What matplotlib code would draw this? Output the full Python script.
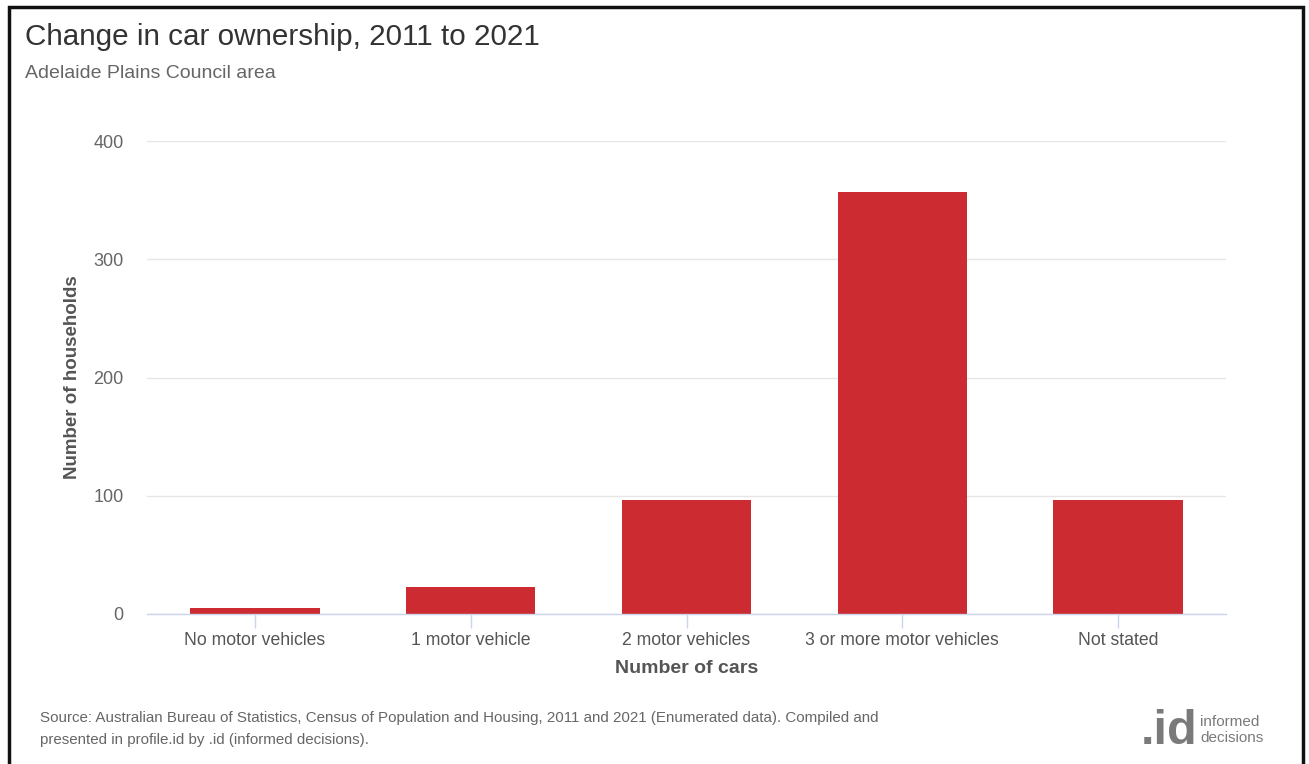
import numpy as np
import matplotlib
matplotlib.use("Agg")
import matplotlib.pyplot as plt
from matplotlib.patches import Rectangle

plt.rcParams['font.family'] = ['Liberation Sans', 'DejaVu Sans']

# Change in number of households by cars owned, 2011 to 2021
categories = ["No motor vehicles", "1 motor vehicle", "2 motor vehicles",
              "3 or more motor vehicles", "Not stated"]
households = [5, 23, 96, 357, 96]
y_ticks = [0, 100, 200, 300, 400]

BAR_RED = "#cc2b31"
GRID = "#e6e6e6"
AXIS_BLUE = "#ccd6eb"
TEXT_GREY = "#666666"

W, H = 1309, 764
fig = plt.figure(figsize=(W / 100, H / 100), dpi=100)

# axes box in pixel terms
left, right, bottom, top = 147, 1226, 614, 141
ax = fig.add_axes([left / W, 1 - bottom / H, (right - left) / W, (bottom - top) / H])

x = np.arange(len(categories))
ax.bar(x, households, width=0.6, color=BAR_RED, zorder=3)

ax.set_xlim(-0.5, len(categories) - 0.5)
ax.set_ylim(0, 400)
ax.set_yticks(y_ticks)
ax.set_yticklabels([str(v) for v in y_ticks], color=TEXT_GREY, fontsize=13)
ax.set_xticks(x)
ax.set_xticklabels(categories, color="#555555", fontsize=12.7)

for s in ["top", "right", "left"]:
    ax.spines[s].set_visible(False)
ax.spines["bottom"].set_color(AXIS_BLUE)
ax.spines["bottom"].set_linewidth(1)
ax.spines["bottom"].set_zorder(4)

ax.tick_params(axis="y", length=0, pad=17)
ax.tick_params(axis="x", length=10, color=AXIS_BLUE, width=1, pad=3)
ax.yaxis.grid(True, color=GRID, linewidth=1, zorder=0)
ax.set_axisbelow(True)

ax.set_xlabel("Number of cars", fontsize=14, fontweight="bold", color="#555555", labelpad=8)
ax.set_ylabel("Number of households", fontsize=13.5, fontweight="bold", color="#555555", labelpad=9)

# titles and source note
fig.text(25 / W, 1 - 37 / H, "Change in car ownership, 2011 to 2021",
         fontsize=21.3, color="#333333", va="center", ha="left")
fig.text(25 / W, 1 - 73 / H, "Adelaide Plains Council area",
         fontsize=14, color=TEXT_GREY, va="center", ha="left")
fig.text(40 / W, 1 - 718 / H,
         "Source: Australian Bureau of Statistics, Census of Population and Housing, 2011 and 2021 "
         "(Enumerated data). Compiled and",
         fontsize=10.9, color=TEXT_GREY, va="center", ha="left")
fig.text(40 / W, 1 - 740 / H, "presented in profile.id by .id (informed decisions).",
         fontsize=10.9, color=TEXT_GREY, va="center", ha="left")

# .id logo
fig.text(1197 / W, 1 - 744 / H, ".id", fontsize=35, fontweight="bold", color="#7a7a7a",
         ha="right", va="baseline")
fig.text(1200 / W, 1 - 722 / H, "informed", fontsize=11,
         family=["Liberation Sans Narrow", "Liberation Sans"], color="#7a7a7a", ha="left", va="center")
fig.text(1200 / W, 1 - 738 / H, "decisions", fontsize=11,
         family=["Liberation Sans Narrow", "Liberation Sans"], color="#7a7a7a", ha="left", va="center")

# black frame around the panel
frame = Rectangle((9 / W, -0.05), (1303 - 9) / W, 1.05 - 6.5 / H, transform=fig.transFigure,
                  fill=False, edgecolor="#111111", linewidth=2.5)
fig.patches.append(frame)

fig.savefig("out.png", dpi=100)
